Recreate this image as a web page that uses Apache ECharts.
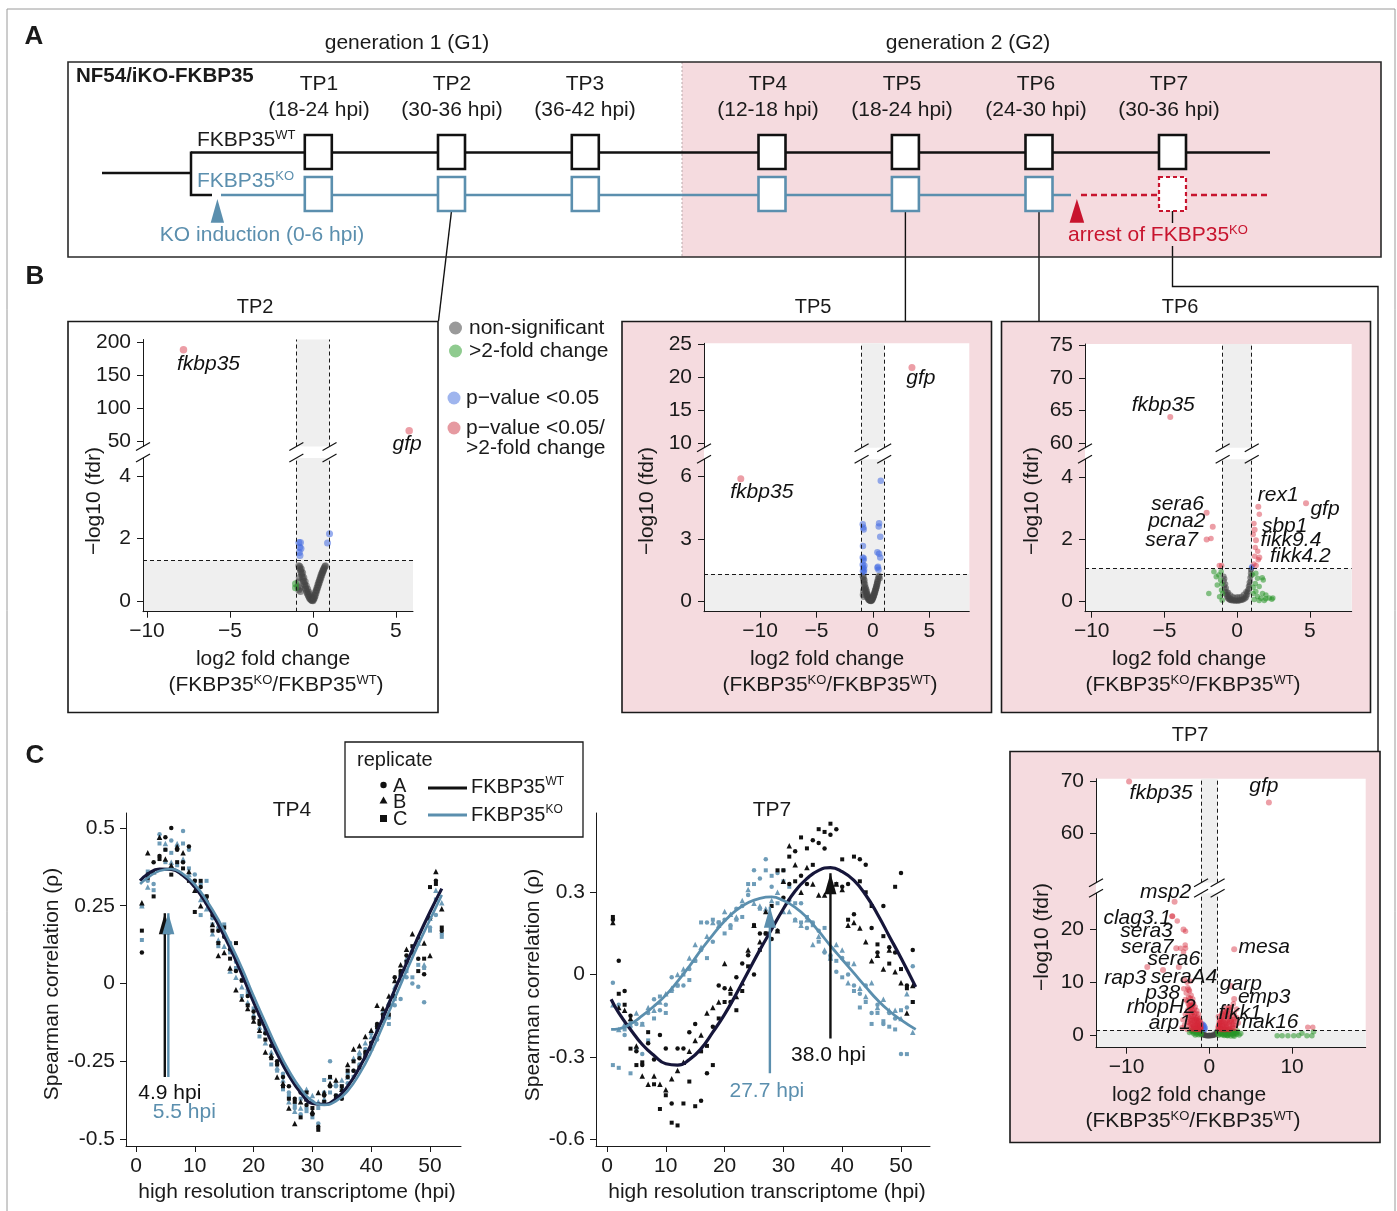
<!DOCTYPE html>
<html><head><meta charset="utf-8">
<script src="https://cdn.jsdelivr.net/npm/echarts@6/dist/echarts.min.js"></script>
<style>html,body{margin:0;padding:0;background:#fff}#c{width:1397px;height:1211px}</style>
</head><body><div id="c"></div>
<script>
// ================= DATA =================
// Panel A time points
const TP_names = ['TP1','TP2','TP3','TP4','TP5','TP6','TP7'];
const TP_windows = ['(18-24 hpi)','(30-36 hpi)','(36-42 hpi)','(12-18 hpi)','(18-24 hpi)','(24-30 hpi)','(30-36 hpi)'];

// Panel B volcano plots: [log2FC, -log10(fdr)]
const TP2_gray = [[-0.85,1.12],[-0.8,1.05],[-0.78,1.1],[-0.75,0.98],[-0.72,0.92],[-0.7,1.02],[-0.68,0.85],[-0.65,0.78],[-0.62,0.9],[-0.6,0.7],[-0.57,0.62],[-0.55,0.75],[-0.52,0.55],[-0.5,0.5],[-0.47,0.62],[-0.45,0.42],[-0.42,0.36],[-0.4,0.48],[-0.37,0.3],[-0.35,0.25],[-0.32,0.38],[-0.3,0.2],[-0.27,0.16],[-0.25,0.28],[-0.22,0.12],[-0.2,0.08],[-0.17,0.2],[-0.15,0.06],[-0.12,0.04],[-0.1,0.12],[-0.07,0.02],[-0.05,0.01],[-0.02,0.06],[0,0.0],[-0.9,0.45],[-0.85,0.35],[-0.8,0.4],[-0.75,0.3],[-0.88,0.6],[-0.82,0.75],[0.03,0.04],[0.05,0.1],[0.08,0.08],[0.1,0.18],[0.13,0.15],[0.15,0.27],[0.18,0.24],[0.2,0.35],[0.23,0.33],[0.25,0.43],[0.28,0.42],[0.3,0.52],[0.33,0.5],[0.35,0.6],[0.38,0.58],[0.4,0.68],[0.43,0.66],[0.45,0.76],[0.48,0.74],[0.5,0.84],[0.53,0.82],[0.55,0.9],[0.58,0.9],[0.6,0.97],[0.63,0.96],[0.65,1.02],[0.68,1.05],[0.72,1.1],[0.75,1.12]];
const TP2_green = [[-1.05,0.55],[-1.05,0.42]];
const TP2_blue = [[-0.85,1.87],[-0.75,1.87],[-0.8,1.72],[-0.72,1.68],[-0.82,1.55],[-0.78,1.45],[0.88,1.85],[1.0,2.15]];
const TP2_red = [];
const TP2_genes = [['fkbp35',-7.8,189],['gfp',5.8,66.5]];

const TP5_gray = [[-0.9,1.2],[-0.85,1.05],[-0.82,1.15],[-0.8,0.9],[-0.78,0.75],[-0.75,1.0],[-0.72,0.6],[-0.7,0.8],[-0.68,0.5],[-0.65,0.65],[-0.62,0.4],[-0.6,0.55],[-0.57,0.3],[-0.55,0.45],[-0.52,0.22],[-0.5,0.35],[-0.47,0.15],[-0.45,0.28],[-0.42,0.1],[-0.4,0.2],[-0.37,0.06],[-0.35,0.14],[-0.32,0.04],[-0.3,0.1],[-0.27,0.02],[-0.25,0.07],[-0.22,0.01],[-0.2,0.04],[-0.17,0.0],[-0.15,0.05],[-0.12,0.02],[-0.1,0.08],[-0.07,0.05],[-0.05,0.12],[-0.02,0.1],[0,0.18],[0.03,0.16],[0.05,0.25],[0.08,0.24],[0.1,0.33],[0.13,0.32],[0.15,0.42],[0.18,0.4],[0.2,0.5],[0.23,0.5],[0.25,0.6],[0.28,0.6],[0.3,0.7],[0.33,0.7],[0.35,0.8],[0.38,0.82],[0.4,0.92],[0.43,0.95],[0.45,1.05],[0.5,1.15],[0.55,1.2],[0.6,1.1],[-0.88,0.3],[-0.85,0.5],[-0.8,0.2]];
const TP5_green = [];
const TP5_blue = [[-0.9,3.7],[-0.85,3.55],[-0.82,3.45],[-0.88,2.65],[-0.9,2.1],[-0.8,2.05],[-0.85,1.95],[-0.9,1.75],[-0.75,1.7],[-0.85,1.6],[-0.78,1.5],[-0.88,1.45],[-0.8,1.4],[0.7,5.8],[0.55,3.75],[0.52,3.6],[0.65,3.1],[0.4,2.35],[0.55,2.28],[0.65,2.1],[0.45,1.65],[0.4,1.6],[0.5,1.5]];
const TP5_red = [];
const TP5_genes = [['gfp',3.46,21.5],['fkbp35',-11.7,5.9]];

const TP6_gray = [[-0.92,0.8],[-0.9,0.65],[-0.88,0.5],[-0.86,0.72],[-0.85,0.4],[-0.82,0.3],[-0.8,0.55],[-0.78,0.22],[-0.75,0.42],[-0.72,0.15],[-0.7,0.3],[-0.67,0.1],[-0.65,0.22],[-0.62,0.07],[-0.6,0.15],[-0.55,0.05],[-0.52,0.12],[-0.5,0.03],[-0.45,0.08],[-0.42,0.02],[-0.38,0.06],[-0.35,0.01],[-0.3,0.05],[-0.25,0.01],[-0.2,0.04],[-0.15,0.0],[-0.1,0.03],[-0.05,0.01],[0,0.04],[0.05,0.0],[0.1,0.03],[0.15,0.01],[0.2,0.05],[0.25,0.02],[0.3,0.06],[0.35,0.03],[0.4,0.08],[0.45,0.05],[0.5,0.12],[0.55,0.08],[0.6,0.18],[0.63,0.12],[0.66,0.26],[0.7,0.2],[0.72,0.36],[0.75,0.3],[0.78,0.48],[0.8,0.4],[0.83,0.6],[0.85,0.52],[0.88,0.75],[0.9,0.65],[0.92,0.9],[0.95,0.82],[0.97,1.02],[0.93,1.0],[-0.3,0.15],[0.0,0.14],[0.3,0.16],[-0.6,0.28],[0.6,0.3],[-0.45,0.2],[0.45,0.22],[-0.15,0.12],[0.15,0.13]];
const TP6_green = [[-1.6,0.95],[-1.44,0.79],[-1.26,0.84],[-1.14,0.68],[-1.37,0.52],[-1.08,0.36],[-1.95,0.25],[-1.21,0.14],[-1.03,0.03],[-1.0,0.25],[-1.1,0.95],[-1.05,0.55],[1.28,0.9],[1.4,0.74],[1.79,0.68],[1.51,0.47],[1.28,0.31],[1.74,0.25],[1.4,0.15],[1.63,0.09],[1.97,0.08],[2.2,0.1],[2.38,0.06],[1.17,0.05],[1.51,0.02],[1.86,0.02],[1.1,0.25],[1.24,0.57],[1.97,0.2],[1.72,0.75],[2.45,0.1],[1.05,0.85],[1.1,0.45]];
const TP6_blue = [[0.98,1.08],[1.02,1.12]];
const TP6_red = [[-1.8,2.02],[1.52,2.8],[1.15,2.5],[1.24,1.73],[1.41,1.61],[1.45,1.33],[1.15,1.2],[-1.07,1.15],[-1.23,1.15],[1.1,2.15],[1.3,1.15],[1.2,1.45]];
const TP6_genes = [['fkbp35',-4.6,64.0],['sera6',-2.1,2.85],['pcna2',-1.68,2.4],['sera7',-2.1,1.99],['rex1',1.45,3.04],['gfp',4.73,3.15],['sbp1',1.2,2.3],['fikk9.4',1.29,1.96],['fikk4.2',1.52,1.41]];

const TP7_gray = [[-0.95,0.85],[-0.9,0.6],[-0.85,0.4],[-0.8,0.25],[-0.7,0.15],[-0.6,0.08],[-0.5,0.04],[-0.4,0.02],[-0.3,0.0],[-0.2,0.0],[-0.1,0.0],[0,0.0],[0.1,0.0],[0.2,0.02],[0.3,0.03],[0.4,0.06],[0.5,0.1],[0.6,0.15],[0.7,0.22],[0.8,0.35],[0.9,0.55],[0.95,0.8],[-0.75,0.5],[0.85,0.7],[-0.5,0.2],[0.5,0.25],[0,0.12]];
const TP7_green = [[-2.2,0.9],[-2.0,0.7],[-1.8,0.95],[-1.6,0.6],[-1.4,0.85],[-1.2,0.5],[-1.1,0.9],[-1.9,0.4],[-1.5,0.3],[-1.3,0.2],[-1.05,0.35],[-2.4,0.6],[-1.7,0.15],[1.1,0.1],[1.3,0.4],[1.5,0.2],[1.7,0.6],[1.9,0.3],[2.1,0.5],[2.3,0.15],[2.5,0.7],[2.7,0.35],[2.9,0.1],[3.1,0.5],[3.3,0.25],[3.6,0.15],[3.8,0.4],[1.2,0.8],[1.6,0.9],[2.0,0.95],[2.4,0.85],[2.8,0.9],[1.4,0.6],[1.8,0.05],[2.2,0.0],[2.6,-0.05],[3.0,-0.1],[1.0,0.5],[1.05,0.9],[-0.95,0.6],[-1.0,0.2],[1.2,0.3],[1.4,0.9],[1.6,0.4],[1.8,0.8],[2.0,0.3],[2.2,0.7],[2.4,0.4],[2.6,0.9],[2.8,0.5],[3.0,0.8],[3.2,0.6],[3.4,0.9],[1.3,0.7],[1.7,0.2],[2.1,0.1],[2.5,0.3],[2.9,0.3],[3.3,0.5],[-1.3,0.7],[-1.6,0.9],[-1.9,0.8],[-2.1,1.0],[-1.2,1.0],
 [8.2,0.0],[8.8,0.0],[9.5,0.0],[10.2,0.0],[10.8,0.05],[11.2,0.45],[11.8,0.0],[12.4,0.0],[12.6,0.75]];
const TP7_blue = [[-0.8,2.2],[-0.7,2.0],[-0.6,1.8],[-0.75,1.6],[-0.5,1.5],[-0.65,1.3],[-0.55,1.15],[-0.85,1.9]];
const TP7_red = [[-2.6,9.0],[-2.4,8.4],[-2.8,8.0],[-2.2,7.6],[-2.5,7.2],[-2.0,6.9],[-2.7,6.5],[-2.3,6.2],[-1.9,6.0],[-2.1,5.6],[-1.7,5.4],[-2.4,5.2],[-1.8,5.0],[-2.6,4.8],[-1.5,4.7],[-2.0,4.4],[-1.6,4.2],[-2.2,4.0],[-1.3,4.0],[-1.8,3.7],[-1.4,3.5],[-2.5,3.5],[-2.0,3.2],[-1.2,3.2],[-1.6,3.0],[-2.3,2.8],[-1.1,2.8],[-1.8,2.6],[-1.4,2.4],[-2.1,2.3],[-1.0,2.3],[-1.6,2.1],[-1.2,1.9],[-2.4,1.9],[-1.9,1.8],[-1.05,1.7],[-1.5,1.6],[-2.2,1.5],[-1.3,1.4],[-1.8,1.3],[-1.1,1.25],[-2.7,1.2],[-1.5,1.15],[-3.0,2.0],[-3.2,3.0],[-2.9,4.0],[-3.3,1.5],[-2.9,6.8],[-3.1,8.8],[-2.7,10.0],[-3.0,10.5],[-2.3,10.2],[-4.48,22.4],[-3.88,21.5],[-2.88,19.6],[-2.92,17.0],[-3.48,16.4],[-2.88,16.4],[-3.12,15.7],
 [-1.0,1.5],[-1.1,2.0],[-1.2,2.6],[-1.3,3.0],[-1.4,1.2],[-1.5,2.0],[-1.6,2.6],[-1.7,3.2],[-1.8,4.2],[-1.9,1.4],[-2.0,2.0],[-2.1,2.9],[-2.2,3.6],[-2.3,4.5],[-2.4,2.4],[-1.15,1.1],[-1.25,1.7],[-1.35,2.2],[-1.45,2.8],[-1.55,3.3],[-1.65,1.5],[-1.75,2.2],[-1.85,2.9],[-1.95,3.6],[-2.05,4.8],[-2.15,1.3],[-2.25,2.1],[-2.35,3.1],[-2.45,5.6],[-2.55,6.0],[-1.05,1.3],[-1.2,1.5],[-1.4,1.8],[-1.6,1.2],[-1.8,1.8],[-2.0,1.2],[-2.6,3.8],[-2.2,5.2],[-2.0,5.8],[-2.3,7.0],
 [1.1,1.2],[1.2,1.6],[1.3,2.1],[1.4,2.6],[1.5,3.0],[1.6,3.5],[1.8,3.9],[2.0,4.3],[2.2,4.6],[2.4,4.9],[2.6,5.3],[1.3,1.3],[1.6,1.9],[1.9,2.4],[2.2,2.9],[2.5,3.4],[2.8,3.8],[3.0,4.2],[1.5,1.2],[1.8,1.5],[2.1,1.8],[2.4,2.2],[2.7,2.6],[3.0,3.0],[3.3,3.4],[2.0,1.2],[2.4,1.4],[2.8,1.7],[3.2,2.0],[3.5,2.4],[1.2,2.8],[1.1,3.6],[1.7,4.6],[2.0,5.2],[2.9,6.0],[3.3,5.0],
 [1.05,1.5],[1.15,2.0],[1.25,2.5],[1.35,3.0],[1.45,3.8],[1.55,4.2],[1.65,2.8],[1.75,3.2],[1.85,4.5],[1.95,3.6],[2.05,2.6],[2.15,3.8],[2.25,4.0],[2.35,3.2],[2.45,2.6],[2.55,4.2],[2.65,3.0],[2.75,2.2],[2.85,1.4],[2.95,2.6],[1.1,1.8],[1.2,2.3],[1.3,1.8],[1.4,1.6],[1.5,2.2],[1.6,2.5],[1.7,1.3],[1.8,2.0],[1.9,1.7],[2.0,2.2],[2.1,1.5],[2.2,2.4],[2.3,1.2],[2.5,1.8],[2.6,1.3],[2.9,2.1],[3.1,1.4],[1.45,1.1],[1.9,1.1],[2.4,1.1],
 [11.9,1.57],[12.5,1.57]];
const TP7_genes = [['fkbp35',-9.7,69.9],['gfp',7.2,65.9],['msp2',-4.2,25.1],['clag3.1',-4.48,22.4],['sera3',-3.12,19.9],['sera7',-4.0,16.4],['sera6',-3.69,12.9],['rap3',-7.5,12.9],['seraA4',-5.6,12.3],['p38',-2.5,8.6],['rhopH2',-2.3,5.6],['arp1',-2.6,2.6],['mesa',3.0,16.2],['garp',2.6,9.3],['emp3',3.0,6.9],['fikk1',2.4,5.3],['mak16',3.1,3.2]];

const FDR_cut = {TP2:1.3, TP5:1.3, TP6:1.05, TP7:1.07};
const FC_cut = 1;

// Panel C: Spearman correlation vs high resolution transcriptome (hpi)
const hpi = [1,2,3,4,5,6,7,8,9,10,11,12,13,14,15,16,17,18,19,20,21,22,23,24,25,26,27,28,29,30,31,32,33,34,35,36,37,38,39,40,41,42,43,44,45,46,47,48,49,50,51,52];
const TP4_WT_A = [0.10,0.35,0.39,0.41,0.47,0.50,0.43,0.39,0.44,0.33,0.31,0.28,0.22,0.17,0.15,0.11,0.04,0.01,-0.04,-0.09,-0.13,-0.16,-0.20,-0.25,-0.30,-0.33,-0.37,-0.35,-0.39,-0.42,-0.46,-0.36,-0.33,-0.36,-0.37,-0.30,-0.28,-0.24,-0.22,-0.19,-0.13,-0.10,-0.07,0.02,0.04,0.09,0.10,0.08,0.03,0.21,0.33,0.17];
const TP4_WT_B = [0.26,0.42,0.36,0.47,0.40,0.38,0.44,0.42,0.36,0.30,0.25,0.27,0.19,0.09,0.10,0.05,-0.02,-0.05,-0.08,-0.12,-0.15,-0.22,-0.23,-0.30,-0.32,-0.40,-0.45,-0.38,-0.37,-0.41,-0.35,-0.35,-0.32,-0.31,-0.34,-0.26,-0.21,-0.20,-0.17,-0.15,-0.07,-0.08,-0.04,0.01,0.06,0.11,0.16,0.15,0.13,0.09,0.36,0.24];
const TP4_WT_C = [0.17,0.34,0.28,0.40,0.43,0.35,0.39,0.37,0.33,0.23,0.33,0.28,0.17,0.13,0.18,0.08,0.13,0.01,-0.07,-0.11,-0.12,-0.18,-0.24,-0.26,-0.33,-0.37,-0.38,-0.43,-0.35,-0.40,-0.47,-0.38,-0.30,-0.37,-0.33,-0.28,-0.25,-0.27,-0.23,-0.21,-0.14,-0.11,-0.10,-0.04,0.03,0.07,0.12,0.04,0.08,0.31,0.32,0.18];
const TP4_KO_A = [0.25,0.33,0.32,0.48,0.43,0.46,0.44,0.49,0.43,0.35,0.32,0.26,0.21,0.18,0.16,0.13,0.07,0.04,-0.02,-0.05,-0.10,-0.16,-0.18,-0.26,-0.29,-0.35,-0.40,-0.42,-0.40,-0.38,-0.45,-0.35,-0.25,-0.33,-0.34,-0.32,-0.28,-0.26,-0.21,-0.20,-0.18,-0.12,-0.11,-0.07,-0.05,0.02,0.00,-0.01,-0.06,0.18,0.22,0.16];
const TP4_KO_B = [0.25,0.31,0.36,0.47,0.45,0.39,0.45,0.40,0.35,0.32,0.27,0.24,0.16,0.14,0.12,0.04,0.02,-0.01,-0.06,-0.10,-0.14,-0.19,-0.22,-0.27,-0.31,-0.38,-0.41,-0.40,-0.34,-0.36,-0.38,-0.37,-0.30,-0.32,-0.31,-0.30,-0.24,-0.22,-0.19,-0.17,-0.13,-0.09,-0.06,-0.01,0.03,0.08,0.11,0.13,0.06,0.21,0.30,0.26];
const TP4_KO_C = [0.14,0.36,0.30,0.45,0.39,0.42,0.38,0.45,0.37,0.33,0.22,0.33,0.19,0.12,0.19,0.10,0.05,-0.04,-0.03,-0.08,-0.17,-0.15,-0.26,-0.28,-0.34,-0.36,-0.39,-0.37,-0.41,-0.43,-0.40,-0.31,-0.35,-0.36,-0.33,-0.29,-0.30,-0.23,-0.24,-0.16,-0.15,-0.10,-0.13,-0.05,0.01,0.04,0.02,0.06,0.05,0.17,0.27,0.15];
const TP4_fit_hpi = [0.7,2,4,6,8,10,12,14,16,18,20,22,24,26,28,30,32,34,36,38,40,42,44,46,48,50,52];
const TP4_WT_fit = [0.33,0.352,0.368,0.367,0.347,0.31,0.255,0.19,0.115,0.03,-0.06,-0.145,-0.225,-0.295,-0.35,-0.385,-0.388,-0.37,-0.33,-0.27,-0.195,-0.11,-0.02,0.065,0.15,0.23,0.305];
const TP4_KO_fit = [0.32,0.34,0.362,0.368,0.352,0.318,0.267,0.205,0.13,0.05,-0.04,-0.125,-0.208,-0.28,-0.338,-0.378,-0.39,-0.378,-0.345,-0.29,-0.22,-0.135,-0.048,0.04,0.125,0.205,0.285];
const TP4_peak = {WT:4.9, KO:5.5};

const TP7_WT_A = [0.20,0.05,-0.06,-0.15,-0.28,-0.33,-0.25,-0.31,-0.22,-0.27,-0.47,-0.27,-0.27,-0.21,-0.18,-0.46,-0.36,-0.19,-0.04,-0.05,-0.10,-0.01,0.04,0.07,0.00,0.15,0.15,0.13,0.16,0.28,0.33,0.45,0.36,0.33,0.49,0.48,0.46,0.51,0.53,0.32,0.33,0.22,0.42,0.40,0.17,0.08,0.25,0.10,0.08,0.37,-0.04,0.09];
const TP7_WT_B = [0.19,-0.12,-0.13,-0.16,-0.26,-0.37,-0.40,-0.37,-0.40,-0.42,-0.38,-0.35,-0.32,-0.28,-0.24,-0.22,-0.14,-0.12,-0.10,0.04,-0.05,-0.08,-0.03,0.09,0.18,0.12,0.23,0.20,0.16,0.34,0.47,0.40,0.30,0.39,0.33,0.29,0.29,0.34,0.33,0.31,0.18,0.19,0.17,0.12,0.05,0.07,0.02,0.09,0.01,-0.03,-0.14,-0.04];
const TP7_WT_C = [0.21,-0.07,-0.11,-0.27,-0.33,-0.32,-0.21,-0.40,-0.49,-0.44,-0.54,-0.55,-0.47,-0.39,-0.48,-0.28,-0.26,-0.33,-0.16,-0.10,-0.07,-0.13,-0.06,0.03,0.18,0.09,0.15,0.25,0.38,0.38,0.43,0.34,0.50,0.46,0.40,0.53,0.52,0.55,0.33,0.42,0.20,0.43,0.34,0.30,0.25,0.11,0.14,0.04,0.32,0.02,-0.05,-0.10];
const TP7_KO_A = [-0.03,-0.11,-0.22,-0.19,-0.18,-0.29,-0.14,-0.09,-0.13,-0.11,-0.01,-0.04,-0.04,0.02,0.05,0.09,0.19,0.12,0.19,0.20,0.18,0.24,0.25,0.29,0.38,0.35,0.42,0.32,0.37,0.38,0.27,0.20,0.26,0.17,0.19,0.16,0.08,0.07,0.01,0.06,0.00,-0.04,-0.07,-0.04,-0.14,-0.11,-0.18,-0.14,-0.16,-0.29,-0.12,0.03];
const TP7_KO_B = [-0.11,-0.20,-0.18,-0.17,-0.14,-0.18,-0.12,-0.13,-0.10,-0.07,-0.05,0.00,0.02,0.06,0.11,0.10,0.14,0.19,0.18,0.23,0.22,0.21,0.27,0.31,0.26,0.25,0.24,0.27,0.30,0.23,0.23,0.20,0.18,0.20,0.11,0.14,0.09,0.06,0.11,0.09,-0.03,0.04,-0.05,-0.08,-0.03,-0.12,-0.09,-0.13,-0.13,-0.16,-0.07,-0.21];
const TP7_KO_C = [-0.33,-0.34,-0.20,-0.36,-0.27,-0.18,-0.24,-0.16,-0.08,-0.14,-0.06,-0.04,0.00,-0.02,0.05,0.19,0.06,0.20,0.19,0.15,0.17,0.20,0.21,0.33,0.33,0.24,0.38,0.36,0.26,0.34,0.32,0.26,0.19,0.21,0.18,0.12,0.17,0.06,0.05,-0.01,0.04,-0.06,-0.12,-0.10,-0.18,-0.14,-0.17,-0.19,-0.20,-0.13,-0.29,-0.10];
const TP7_fit_hpi = [0.7,2,4,6,8,10,12,14,16,18,20,22,24,26,28,30,32,34,36,38,40,42,44,46,48,50,52.5];
const TP7_WT_fit = [-0.09,-0.14,-0.2,-0.255,-0.295,-0.325,-0.33,-0.31,-0.27,-0.21,-0.145,-0.07,0.01,0.09,0.165,0.24,0.305,0.35,0.38,0.39,0.375,0.343,0.29,0.22,0.14,0.06,-0.045];
const TP7_KO_fit = [-0.2,-0.198,-0.18,-0.15,-0.115,-0.075,-0.025,0.03,0.09,0.145,0.195,0.235,0.262,0.278,0.283,0.27,0.245,0.208,0.158,0.105,0.055,0.005,-0.045,-0.093,-0.133,-0.165,-0.2];
const TP7_peak = {WT:38.0, KO:27.7};

// ================= STYLE / LAYOUT =================
const FONT = '"Liberation Sans", Arial, Helvetica, sans-serif';
const INK = '#1a1a1a';
const BLUE = '#5b8fae';
const BLUEPT = '#6e9cb8';
const RED = '#c8142e';
const PINK = '#f5dbdf';
const SHADE = '#efefef';
const NAVY = '#16163a';
const COL = {gray:'rgba(70,70,70,0.55)', green:'rgba(40,150,40,0.55)', blue:'rgba(65,105,225,0.55)', red:'rgba(212,40,58,0.45)'};

const VL = {
  TP2:{left:143,width:270,xmin:-10.24,xmax:6.03,xt:[-10,-5,0,5],up:{top:339.5,height:107,min:42.5,max:204.6,ticks:[50,100,150,200]},lo:{top:458,height:153.7,min:-0.35,max:4.58,ticks:[0,2,4]},size:7,
       off:{fkbp35:[25,14],gfp:[-2,13]}},
  TP5:{left:704,width:265.3,xmin:-14.96,xmax:8.54,xt:[-10,-5,0,5],up:{top:343.3,height:104.4,min:9.33,max:25.15,ticks:[10,15,20,25]},lo:{top:459.3,height:152.4,min:-0.52,max:6.84,ticks:[0,3,6]},size:6.5,
       off:{gfp:[9,11],fkbp35:[21,13]}},
  TP6:{left:1085,width:266.7,xmin:-10.46,xmax:7.87,xt:[-10,-5,0,5],up:{top:344,height:103.7,min:59.33,max:75.15,ticks:[60,65,70,75]},lo:{top:459.3,height:152.4,min:-0.34,max:4.57,ticks:[0,2,4]},size:5.5,
       off:{fkbp35:[-7,-12],sera6:[-29,-9],pcna2:[-36,-5],sera7:[-35,1],rex1:[20,-12],gfp:[19,6],sbp1:[30,-4],'fikk9.4':[35,0],'fikk4.2':[41,-1]}},
  TP7:{left:1096,width:269.7,xmin:-13.7,xmax:18.9,xt:[-10,0,10],up:{top:778.7,height:104,min:50.55,max:70.44,ticks:[60,70]},lo:{top:893.3,height:154.4,min:-2.25,max:26.7,ticks:[0,10,20]},size:5.5,
       off:{fkbp35:[32,12],gfp:[-5,-16],msp2:[-9,-10],'clag3.1':[-35,2],sera3:[-37,2],sera7:[-29,-1],sera6:[-5,-8],rap3:[-22,11],seraA4:[21,7],p38:[-26,3],rhopH2:[-29,1],arp1:[-18,1],mesa:[30,-2],garp:[10,-2],emp3:[30,-2],fikk1:[11,6],mak16:[32,4]}}
};
const VDATA = {
  TP2:{gray:TP2_gray,green:TP2_green,blue:TP2_blue,red:TP2_red,genes:TP2_genes},
  TP5:{gray:TP5_gray,green:TP5_green,blue:TP5_blue,red:TP5_red,genes:TP5_genes},
  TP6:{gray:TP6_gray,green:TP6_green,blue:TP6_blue,red:TP6_red,genes:TP6_genes},
  TP7:{gray:TP7_gray,green:TP7_green,blue:TP7_blue,red:TP7_red,genes:TP7_genes}
};

const grids=[], xAxes=[], yAxes=[], series=[];
const labelJobs = [];   // text annotations placed at data coordinates after layout
const fmtMinus = v => (v < 0 ? '\u2212' + Math.abs(v) : String(v));
const axLine = {show:true, onZero:false, lineStyle:{color:INK, width:1}};
const tickOf = v => ({show:true, length:6, customValues:v, lineStyle:{color:INK, width:1}});
const labOf = (v, f, m) => ({show:true, customValues:v, fontSize:21, color:INK, fontFamily:FONT, margin:m||10, formatter:f});

function addGrid(l,t,w,h){ grids.push({left:l, top:t, width:w, height:h, containLabel:false, outerBoundsMode:'none', show:false}); return grids.length-1; }

function volcano(key){
  const L = VL[key], D = VDATA[key], thr = FDR_cut[key];
  const gu = addGrid(L.left, L.up.top, L.width, L.up.height);
  xAxes.push({gridIndex:gu, type:'value', min:L.xmin, max:L.xmax, show:false});
  yAxes.push({gridIndex:gu, type:'value', min:L.up.min, max:L.up.max, z:10, axisLine:axLine, axisTick:tickOf(L.up.ticks), axisLabel:labOf(L.up.ticks,null,12), splitLine:{show:false}});
  const gl = addGrid(L.left, L.lo.top, L.width, L.lo.height);
  xAxes.push({gridIndex:gl, type:'value', min:L.xmin, max:L.xmax, z:10, axisLine:axLine, axisTick:tickOf(L.xt), axisLabel:labOf(L.xt, fmtMinus, 9), splitLine:{show:false}});
  yAxes.push({gridIndex:gl, type:'value', min:L.lo.min, max:L.lo.max, z:10, axisLine:axLine, axisTick:tickOf(L.lo.ticks), axisLabel:labOf(L.lo.ticks,null,12), splitLine:{show:false}});
  const dash = {type:[4,3], color:INK, width:1};
  series.push({type:'scatter', xAxisIndex:gu, yAxisIndex:gu, data:[], silent:true, symbolSize:0,
    markArea:{silent:true, itemStyle:{color:SHADE, opacity:1}, data:[[{xAxis:-FC_cut},{xAxis:FC_cut}]]},
    markLine:{silent:true, symbol:['none','none'], label:{show:false}, lineStyle:dash, data:[{xAxis:-FC_cut},{xAxis:FC_cut}]}});
  series.push({type:'scatter', xAxisIndex:gl, yAxisIndex:gl, data:[], silent:true, symbolSize:0,
    markArea:{silent:true, itemStyle:{color:SHADE, opacity:1}, data:[[{xAxis:-FC_cut},{xAxis:FC_cut}],[{yAxis:L.lo.min},{yAxis:thr}]]},
    markLine:{silent:true, symbol:['none','none'], label:{show:false}, lineStyle:dash, data:[{xAxis:-FC_cut},{xAxis:FC_cut},{yAxis:thr}]}});
  const pts = (data, g, c, size, z) => series.push({type:'scatter', xAxisIndex:g, yAxisIndex:g, data, symbolSize:size, itemStyle:{color:COL[c], opacity:1}, silent:true, z:z||2});
  ['gray','green','blue','red'].forEach(c => {
    const arr = D[c];
    const up = arr.filter(p => p[1] >= L.up.min), lo = arr.filter(p => p[1] <= L.lo.max);
    if (lo.length) pts(lo, gl, c, L.size);
    if (up.length) pts(up, gu, c, L.size);
  });
  const gUp = D.genes.filter(g => g[2] >= L.up.min), gLo = D.genes.filter(g => g[2] <= L.lo.max);
  if (gLo.length) pts(gLo.map(g => [g[1], g[2]]), gl, 'red', L.size+0.5, 4);
  if (gUp.length) pts(gUp.map(g => [g[1], g[2]]), gu, 'red', L.size+0.5, 4);
  gLo.forEach(g => labelJobs.push({grid:gl, x:g[1], y:g[2], text:g[0], off:L.off[g[0]]||[0,0], italic:true, color:'#111'}));
  gUp.forEach(g => labelJobs.push({grid:gu, x:g[1], y:g[2], text:g[0], off:L.off[g[0]]||[0,0], italic:true, color:'#111'}));
}
['TP2','TP5','TP6','TP7'].forEach(volcano);

// Panel C
const CL = {
  TP4:{left:126,top:813,width:335,height:333,xmin:-1.7,xmax:55.27,ymin:-0.522,ymax:0.548,yt:[-0.5,-0.25,0,0.25,0.5],
       arrowBase:-0.30,tip:{WT:0.226,KO:0.226},labOff:{WT:[5,16],KO:[16,35]}},
  TP7:{left:596,top:813,width:334,height:333,xmin:-1.87,xmax:54.93,ymin:-0.625,ymax:0.589,yt:[-0.6,-0.3,0,0.3],
       arrowBase:{WT:-0.233,KO:-0.36},tip:{WT:0.369,KO:0.247},labOff:{WT:[-2,17],KO:[-3,18]}}
};
const CDATA = {
  TP4:{WT:[TP4_WT_A,TP4_WT_B,TP4_WT_C], KO:[TP4_KO_A,TP4_KO_B,TP4_KO_C], fx:TP4_fit_hpi, fWT:TP4_WT_fit, fKO:TP4_KO_fit, peak:TP4_peak},
  TP7:{WT:[TP7_WT_A,TP7_WT_B,TP7_WT_C], KO:[TP7_KO_A,TP7_KO_B,TP7_KO_C], fx:TP7_fit_hpi, fWT:TP7_WT_fit, fKO:TP7_KO_fit, peak:TP7_peak}
};
const SYM = [['circle',4.5],['triangle',5.5],['rect',4]];
function corr(key){
  const L = CL[key], D = CDATA[key];
  const g = addGrid(L.left, L.top, L.width, L.height);
  xAxes.push({gridIndex:g, type:'value', min:L.xmin, max:L.xmax, z:10, axisLine:axLine, axisTick:tickOf([0,10,20,30,40,50]), axisLabel:labOf([0,10,20,30,40,50],null,10), splitLine:{show:false}});
  yAxes.push({gridIndex:g, type:'value', min:L.ymin, max:L.ymax, z:10, axisLine:axLine, axisTick:tickOf(L.yt), axisLabel:labOf(L.yt,null,11), splitLine:{show:false}});
  const zip = ys => ys.map((y,i) => [hpi[i], y]);
  D.KO.forEach((ys,i) => series.push({type:'scatter', xAxisIndex:g, yAxisIndex:g, data:zip(ys), symbol:SYM[i][0], symbolSize:SYM[i][1], itemStyle:{color:BLUEPT, opacity:1}, silent:true}));
  D.WT.forEach((ys,i) => series.push({type:'scatter', xAxisIndex:g, yAxisIndex:g, data:zip(ys), symbol:SYM[i][0], symbolSize:SYM[i][1], itemStyle:{color:'#111', opacity:1}, silent:true}));
  series.push({type:'line', xAxisIndex:g, yAxisIndex:g, data:D.fx.map((x,i)=>[x, D.fWT[i]]), smooth:true, showSymbol:false, lineStyle:{color:NAVY, width:3.2}, silent:true, z:5});
  series.push({type:'line', xAxisIndex:g, yAxisIndex:g, data:D.fx.map((x,i)=>[x, D.fKO[i]]), smooth:true, showSymbol:false, lineStyle:{color:BLUE, width:key==='TP4'?2.6:2.8}, silent:true, z:6});
  ['WT','KO'].forEach(k => {
    const col = k==='WT' ? '#111' : BLUE;
    const base = typeof L.arrowBase === 'number' ? L.arrowBase : L.arrowBase[k];
    const pk = D.peak[k];
    series.push({type:'line', xAxisIndex:g, yAxisIndex:g, data:[[pk, base],[pk, L.tip[k]]], showSymbol:false, lineStyle:{color:col, width:2.4}, silent:true, z:7});
    series.push({type:'scatter', xAxisIndex:g, yAxisIndex:g, data:[[pk, L.tip[k]]], symbol:'triangle', symbolSize:[12,21], symbolOffset:[0,'50%'], itemStyle:{color:col, opacity:1}, silent:true, z:8});
    labelJobs.push({grid:g, x:pk, y:base, text:pk.toFixed(1) + ' hpi', off:L.labOff[k], italic:false, color:col});
  });
}
corr('TP4'); corr('TP7');

// ================= GRAPHIC (schematic, frames, titles) =================
const G = [];
const R = (x,y,w,h,style,z) => G.push({type:'rect', shape:{x,y,width:w,height:h}, style, z:z===undefined?-5:z, silent:true});
const Ln = (pts,style,z) => G.push({type:'polyline', shape:{points:pts}, style:Object.assign({fill:null}, style), z:z===undefined?20:z, silent:true});
const Pg = (pts,fill,z) => G.push({type:'polygon', shape:{points:pts}, style:{fill}, z:z===undefined?20:z, silent:true});
const Cc = (x,y,r,fill,z) => G.push({type:'circle', shape:{cx:x,cy:y,r}, style:{fill}, z:z===undefined?20:z, silent:true});
function T(x,y,txt,o){
  o = o || {};
  const fs = o.size || 21, col = o.color || INK;
  const st = {text:txt, fill:col, fontSize:fs, fontFamily:FONT, fontWeight:o.bold?'bold':'normal', fontStyle:o.italic?'italic':'normal',
    align:o.align||'center', textAlign:o.align||'center', verticalAlign:'middle', textVerticalAlign:'middle',
    rich:{s:{fontSize:Math.round(fs*0.62), fontFamily:FONT, fill:col, verticalAlign:'top', lineHeight:Math.round(fs*1.1)}}};
  G.push({type:'text', x, y, rotation:o.rot||0, style:st, z:30, silent:true});
}
// outer frame
R(7,9,1388,1210,{fill:'none', stroke:'#9a9a9a', lineWidth:1},-20);
// ---- Panel A ----
R(68,62,1313,195,{fill:'#fff', stroke:null},-8);
R(682,62,699,195,{fill:PINK, stroke:null},-7);
Ln([[682,62],[682,257]],{stroke:'#b9a9ab', lineWidth:1, lineDash:[2,2]},-6);
R(68,62,1313,195,{fill:'none', stroke:'#2a2a2a', lineWidth:1.6},25);
T(34,37,'A',{size:26,bold:true});
T(407,43,'generation 1 (G1)',{size:21});
T(968,43,'generation 2 (G2)',{size:21});
T(76,76,'NF54/iKO-FKBP35',{size:20.5,bold:true,align:'left'});
const TPX = [319,452,585,768,902,1036,1169];
const BX = [318.3,451.5,585.3,772,905.4,1039,1172.5];
TP_names.forEach((n,i) => { T(TPX[i],84,n,{size:21}); T(TPX[i],110,TP_windows[i],{size:21}); });
Ln([[191,152.5],[1270,152.5]],{stroke:'#111', lineWidth:2.5});
Ln([[102,173],[191,173]],{stroke:'#111', lineWidth:2.5});
Ln([[191,151.5],[191,195],[212,195]],{stroke:'#111', lineWidth:2.5});
Ln([[221,195],[1071,195]],{stroke:BLUE, lineWidth:2.5});
Ln([[1081,195],[1270,195]],{stroke:RED, lineWidth:2.5, lineDash:[6,4]});
BX.forEach((x,i) => {
  R(x-13.5,135,27,34,{fill:'#fff', stroke:'#111', lineWidth:2.6},22);
  if (i < 6) R(x-13.5,177,27,34,{fill:'#fff', stroke:BLUE, lineWidth:2.6},22);
  else R(x-13.5,177,27,34,{fill:'#fff', stroke:RED, lineWidth:2.2, lineDash:[4,3]},22);
});
Pg([[217.4,199],[210.7,222.7],[224.1,222.7]],BLUE);
Pg([[1076.9,199],[1069.6,222.7],[1084.2,222.7]],RED);
T(262,235,'KO induction (0-6 hpi)',{size:21,color:BLUE});
T(1068,235,'arrest of FKBP35{s|KO}',{size:21,color:RED,align:'left'});
T(197,140,'FKBP35{s|WT}',{size:21,align:'left'});
T(197,181,'FKBP35{s|KO}',{size:21,color:BLUE,align:'left'});
// connectors
const cst = {stroke:'#111', lineWidth:1.4};
Ln([[451.5,211],[438.5,321]],cst,1);
Ln([[905.4,211],[905.4,321.5]],cst,1);
Ln([[1039,211],[1039,321.5]],cst,1);
Ln([[1172.5,211],[1172.5,223]],cst,1);
Ln([[1172.5,246],[1172.5,286.5],[1378,286.5],[1378,751.5]],cst,1);
// ---- Panel B ----
T(35,277,'B',{size:26,bold:true});
const BOX = {TP2:[68,321.5,370,391,'#fff'], TP5:[622,321.5,369.5,391,PINK], TP6:[1001.5,321.5,369,391,PINK], TP7:[1010,751.5,370,391,PINK]};
const TTL = {TP2:[255,307], TP5:[813,307], TP6:[1180,307], TP7:[1190,735]};
const YT = {TP2:[94,501], TP5:[647,501], TP6:[1032,501], TP7:[1042,937]};
const XT = {TP2:[273,659,276,685], TP5:[827,659,830,685], TP6:[1189,659,1193,685], TP7:[1189,1095,1193,1121]};
Object.keys(BOX).forEach(k => {
  const b = BOX[k], L = VL[k];
  R(b[0],b[1],b[2],b[3],{fill:b[4], stroke:null},-9);
  R(b[0],b[1],b[2],b[3],{fill:'none', stroke:'#1a1a1a', lineWidth:1.6},25);
  if (k !== 'TP2') R(L.left, L.up.top, L.width, L.lo.top + L.lo.height - L.up.top, {fill:'#fff', stroke:null}, -4);
  T(TTL[k][0],TTL[k][1],k,{size:20});
  T(YT[k][0],YT[k][1],'\u2212log10 (fdr)',{size:21,rot:Math.PI/2});
  T(XT[k][0],XT[k][1],'log2 fold change',{size:21});
  T(XT[k][2],XT[k][3],'(FKBP35{s|KO}/FKBP35{s|WT})',{size:21});
  // axis break marks
  const yb1 = L.up.top + L.up.height, yb2 = L.lo.top;
  const xpix = v => L.left + (v - L.xmin) / (L.xmax - L.xmin) * L.width;
  [L.left, xpix(-FC_cut), xpix(FC_cut)].forEach(px => {
    if (px !== L.left) R(px-7, yb1, 14, yb2-yb1, {fill:'#fff', stroke:null}, 15);
    [yb1, yb2].forEach(yy => Ln([[px-7,yy+4],[px+7,yy-4]],{stroke:'#111', lineWidth:1.2},26));
  });
});
// legend B
const LEG = [[455.5,328,'gray','non-significant',469],[455.5,351,'green','>2-fold change',469],[454,398,'blue','p\u2212value <0.05',466],[454,428,'red','p\u2212value <0.05/',466]];
const LEGC = {gray:'#9a9a9a', green:'#8fcb8f', blue:'#9fb5ee', red:'#e69aa1'};
LEG.forEach(l => { Cc(l[0],l[1],6.5,LEGC[l[2]]); T(l[4],l[1],l[3],{size:21,align:'left'}); });
T(466,448,'>2-fold change',{size:21,align:'left'});
// ---- Panel C ----
T(35,756,'C',{size:26,bold:true});
T(292,810,'TP4',{size:21});
T(772,810,'TP7',{size:21});
T(52,984,'Spearman correlation (\u03c1)',{size:21,rot:Math.PI/2});
T(533,985,'Spearman correlation (\u03c1)',{size:21,rot:Math.PI/2});
T(297,1192,'high resolution transcriptome (hpi)',{size:21});
T(767,1192,'high resolution transcriptome (hpi)',{size:21});
R(345,742,238,95,{fill:'#fff', stroke:'#1a1a1a', lineWidth:1.3},24);
T(357,760,'replicate',{size:20,align:'left'});
Cc(383.5,785,3.2,'#111',30);
Pg([[383.5,796.5],[379.5,803.5],[387.5,803.5]],'#111',30);
R(380,815,7,7,{fill:'#111', stroke:null},30);
T(393,786,'A',{size:20,align:'left'});
T(393,802,'B',{size:20,align:'left'});
T(393,819,'C',{size:20,align:'left'});
Ln([[428,788],[467,788]],{stroke:'#111', lineWidth:3.2},30);
Ln([[428,815],[467,815]],{stroke:BLUE, lineWidth:3.2},30);
T(471,787,'FKBP35{s|WT}',{size:20,align:'left'});
T(471,815,'FKBP35{s|KO}',{size:20,align:'left'});

const chart = echarts.init(document.getElementById('c'), null, {renderer:'canvas', width:1397, height:1211});
chart.setOption({
  animation:false,
  backgroundColor:'#fff',
  textStyle:{fontFamily:FONT},
  grid:grids, xAxis:xAxes, yAxis:yAxes, series:series
});
// place data-anchored annotations through the chart's own coordinate conversion
labelJobs.forEach(j => {
  const p = chart.convertToPixel({gridIndex:j.grid}, [j.x, j.y]);
  if (p) T(p[0] + j.off[0], p[1] + j.off[1], j.text, {size:21, italic:j.italic, color:j.color});
});
chart.setOption({graphic:{elements:G}});
</script>
</body></html>
